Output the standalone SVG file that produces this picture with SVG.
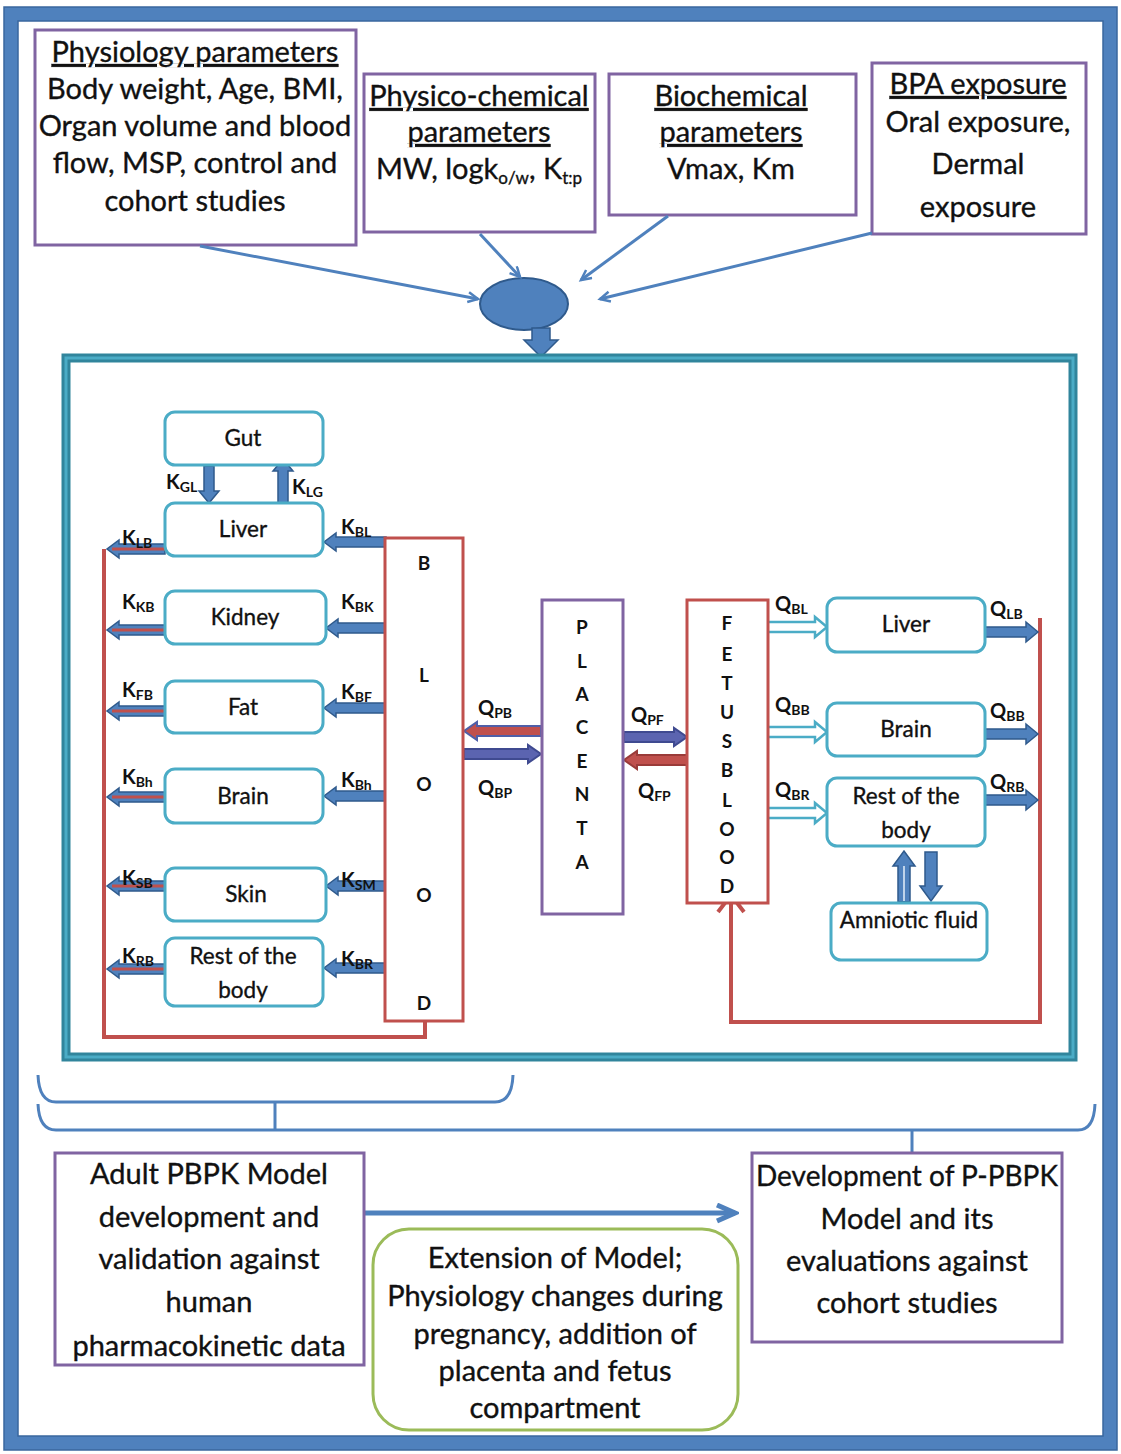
<svg xmlns="http://www.w3.org/2000/svg" width="1121" height="1454" viewBox="0 0 1121 1454">
<style>
.t{font-family:Lato,"Open Sans","Liberation Sans",sans-serif;fill:#111;stroke:#111;stroke-width:0.35;text-anchor:middle}
.big{font-size:29px}
.org{font-size:22.5px}
.lab{font-family:Lato,"Open Sans","Liberation Sans",sans-serif;font-size:20px;font-weight:bold;fill:#111}
.sub{font-size:14px}
.let{font-family:Lato,"Open Sans","Liberation Sans",sans-serif;font-size:19px;font-weight:bold;fill:#111;text-anchor:middle}
.pbox{fill:#fff;stroke:#8064A2;stroke-width:3}
.obox{fill:#fff;stroke:#4BACC6;stroke-width:3}
.rbox{fill:#fff;stroke:#C0504D;stroke-width:3}
.conn{fill:none;stroke:#4F81BD;stroke-width:3}
.barr{fill:#4F81BD;stroke:#2F5A8C;stroke-width:1.5}
.red{fill:none;stroke:#C0504D;stroke-width:4}
.hol{fill:#fff;stroke:#4BACC6;stroke-width:2.5}
.brace{fill:none;stroke:#4F81BD;stroke-width:3}
</style>
<defs>
<marker id="open" markerWidth="14" markerHeight="14" refX="11" refY="6" orient="auto" markerUnits="userSpaceOnUse">
<path d="M1,1 L11,6 L1,11" fill="none" stroke="#4F81BD" stroke-width="2.5"/>
</marker>
<marker id="open2" markerWidth="24" markerHeight="24" refX="20" refY="10" orient="auto" markerUnits="userSpaceOnUse">
<path d="M2,2 L20,10 L2,18" fill="none" stroke="#4F81BD" stroke-width="5"/>
</marker>
</defs>
<rect width="1121" height="1454" fill="#fff"/>
<rect x="11" y="14" width="1099" height="1429" fill="none" stroke="#4F81BD" stroke-width="14"/>
<rect x="4" y="7" width="1113" height="1443" fill="none" stroke="#3A679E" stroke-width="1.5"/>
<rect x="18" y="21" width="1085" height="1415" fill="none" stroke="#3A679E" stroke-width="1.5"/>

<!-- top boxes -->
<g id="physiology">
<rect class="pbox" x="35" y="30" width="321" height="215"/>
<text class="t big" x="195" y="62" text-decoration="underline">Physiology parameters</text>
<text class="t big" x="195" y="99">Body weight, Age, BMI,</text>
<text class="t big" x="195" y="136">Organ volume and blood</text>
<text class="t big" x="195" y="173">flow, MSP, control and</text>
<text class="t big" x="195" y="211">cohort studies</text>
</g>
<g id="physicochemical">
<rect class="pbox" x="364" y="74" width="231" height="158"/>
<text class="t big" x="479" y="106" text-decoration="underline">Physico-chemical</text>
<text class="t big" x="479" y="142" text-decoration="underline">parameters</text>
<text class="t big" x="479" y="179">MW, logk<tspan font-size="17" dy="5">o/w</tspan><tspan dy="-5">, K</tspan><tspan font-size="17" dy="5">t:p</tspan></text>
</g>
<g id="biochemical">
<rect class="pbox" x="609" y="74" width="247" height="141"/>
<text class="t big" x="731" y="106" text-decoration="underline">Biochemical</text>
<text class="t big" x="731" y="142" text-decoration="underline">parameters</text>
<text class="t big" x="731" y="179">Vmax, Km</text>
</g>
<g id="bpa">
<rect class="pbox" x="872" y="63" width="214" height="171"/>
<text class="t big" x="978" y="94" text-decoration="underline">BPA exposure</text>
<text class="t big" x="978" y="132">Oral exposure,</text>
<text class="t big" x="978" y="174">Dermal</text>
<text class="t big" x="978" y="217">exposure</text>
</g>
<g id="hub">
<ellipse cx="524" cy="304" rx="44" ry="26" fill="#4F81BD" stroke="#2F5A8C" stroke-width="2"/>
<path class="barr" d="M532,328 H550 V340 H558 L541,357 L524,340 H532 Z"/>
</g>

<!-- main model frame -->
<rect x="66" y="358" width="1007" height="699" fill="none" stroke="#31859C" stroke-width="9"/>
<rect x="66" y="358" width="1007" height="699" fill="none" stroke="#4BACC6" stroke-width="3"/>

<g id="connectors">
<line class="conn" x1="200" y1="246" x2="478" y2="299" marker-end="url(#open)"/>
<line class="conn" x1="480" y1="234" x2="520" y2="277" marker-end="url(#open)"/>
<line class="conn" x1="668" y1="216" x2="581" y2="280" marker-end="url(#open)"/>
<line class="conn" x1="872" y1="233" x2="600" y2="299" marker-end="url(#open)"/>

<!-- maternal red loop -->
<path class="red" d="M104,549 V1037 H425 V1021"/>
<!-- fetal red loop -->
<path class="red" d="M1040,618 V1022 H731 V898"/>
<path d="M718,912 L731,895 L744,912" fill="none" stroke="#C0504D" stroke-width="4"/>

<!-- gut/liver -->
<path class="barr" d="M204,466 H214 V491 H219 L209,503 L199,491 H204 Z"/>
<path class="barr" d="M278,504 H288 V471 H293 L283,459 L273,471 H278 Z"/>

<!-- blood -> organs (left pointing) -->
<path class="barr" d="M386,537 H336 V533 L324,542 L336,551 V547 H386 Z"/>
<path class="barr" d="M386,623 H338 V619 L326,628 L338,637 V633 H386 Z"/>
<path class="barr" d="M386,703 H336 V699 L324,708 L336,717 V713 H386 Z"/>
<path class="barr" d="M386,791 H336 V787 L324,796 L336,805 V801 H386 Z"/>
<path class="barr" d="M386,881 H338 V877 L326,886 L338,895 V891 H386 Z"/>
<path class="barr" d="M386,963 H336 V959 L324,968 L336,977 V973 H386 Z"/>

<!-- organs -> venous line (left pointing, red stripe) -->
<g>
<path class="barr" d="M165,544 H119 V540 L107,549 L119,558 V554 H165 Z"/>
<line x1="112" y1="549" x2="165" y2="549" stroke="#C0504D" stroke-width="3"/>
<path class="barr" d="M165,625 H119 V621 L107,630 L119,639 V635 H165 Z"/>
<line x1="112" y1="630" x2="165" y2="630" stroke="#C0504D" stroke-width="3"/>
<path class="barr" d="M165,706 H119 V702 L107,711 L119,720 V716 H165 Z"/>
<line x1="112" y1="711" x2="165" y2="711" stroke="#C0504D" stroke-width="3"/>
<path class="barr" d="M165,792 H119 V788 L107,797 L119,806 V802 H165 Z"/>
<line x1="112" y1="797" x2="165" y2="797" stroke="#C0504D" stroke-width="3"/>
<path class="barr" d="M165,881 H119 V877 L107,886 L119,895 V891 H165 Z"/>
<line x1="112" y1="886" x2="165" y2="886" stroke="#C0504D" stroke-width="3"/>
<path class="barr" d="M165,964 H119 V960 L107,969 L119,978 V974 H165 Z"/>
<line x1="112" y1="969" x2="165" y2="969" stroke="#C0504D" stroke-width="3"/>
</g>

<!-- blood <-> placenta -->
<path d="M541,726 H477 V722 L464,731 L477,740 V736 H541 Z" fill="#C0504D" stroke="#4F5FA8" stroke-width="2"/>
<path d="M464,749 H528 V745 L541,754 L528,763 V759 H464 Z" fill="#5B64B0" stroke="#3F4A90" stroke-width="2"/>
<path d="M624,732 H674 V728 L687,737 L674,746 V742 H624 Z" fill="#5B64B0" stroke="#3F4A90" stroke-width="2"/>
<path d="M687,755 H637 V751 L624,760 L637,769 V765 H687 Z" fill="#C0504D" stroke="#9A3B39" stroke-width="2"/>

<!-- fetal blood -> organs (hollow) -->
<path class="hol" d="M769,622 H815 V617 L827,627 L815,637 V632 H769"/>
<path class="hol" d="M769,727 H815 V722 L827,732 L815,742 V737 H769"/>
<path class="hol" d="M769,808 H815 V803 L827,813 L815,823 V818 H769"/>

<!-- fetal organs -> venous -->
<path class="barr" d="M985,627 H1026 V622 L1038,632 L1026,642 V637 H985 Z"/>
<path class="barr" d="M985,729 H1026 V724 L1038,734 L1026,744 V739 H985 Z"/>
<path class="barr" d="M985,795 H1026 V790 L1038,800 L1026,810 V805 H985 Z"/>

<!-- amniotic -->
<path class="barr" d="M898,902 H910 V866 H915 L904,851 L893,866 H898 Z"/>
<line x1="904" y1="866" x2="904" y2="901" stroke="#BFD3EA" stroke-width="2"/>
<path class="barr" d="M925,852 H937 V886 H942 L931,901 L920,886 H925 Z"/>

<!-- bottom -->
<path class="brace" d="M38,1075 Q39,1102 56,1102 H495 Q512,1102 513,1075"/>
<line class="brace" x1="275" y1="1102" x2="275" y2="1130"/>
<path class="brace" d="M38,1104 Q39,1130 56,1130 H1078 Q1094,1130 1095,1104"/>
<line class="brace" x1="912" y1="1130" x2="912" y2="1155"/>
<line x1="364" y1="1213" x2="735" y2="1213" stroke="#4F81BD" stroke-width="5" marker-end="url(#open2)"/>
</g>

<!-- left organs -->
<g id="gut"><rect class="obox" x="165" y="412" width="158" height="53" rx="10"/><text class="t org" x="243" y="446">Gut</text></g>
<g id="liver"><rect class="obox" x="165" y="503" width="158" height="53" rx="10"/><text class="t org" x="243" y="537">Liver</text></g>
<g id="kidney"><rect class="obox" x="165" y="591" width="161" height="53" rx="10"/><text class="t org" x="245" y="625">Kidney</text></g>
<g id="fat"><rect class="obox" x="165" y="681" width="158" height="52" rx="10"/><text class="t org" x="243" y="715">Fat</text></g>
<g id="brain"><rect class="obox" x="165" y="769" width="158" height="54" rx="10"/><text class="t org" x="243" y="804">Brain</text></g>
<g id="skin"><rect class="obox" x="165" y="868" width="161" height="53" rx="10"/><text class="t org" x="246" y="902">Skin</text></g>
<g id="rest"><rect class="obox" x="165" y="938" width="158" height="68" rx="10"/><text class="t org" x="243" y="964">Rest of the</text><text class="t org" x="243" y="998">body</text></g>

<g id="blood">
<rect class="rbox" x="385" y="538" width="78" height="483"/>
<text class="let" x="424" y="570">B</text>
<text class="let" x="424" y="682">L</text>
<text class="let" x="424" y="791">O</text>
<text class="let" x="424" y="902">O</text>
<text class="let" x="424" y="1010">D</text>
</g>
<g id="placenta">
<rect class="pbox" x="542" y="600" width="81" height="314"/>
<text class="let" x="582" y="634">P</text>
<text class="let" x="582" y="668">L</text>
<text class="let" x="582" y="701">A</text>
<text class="let" x="582" y="734">C</text>
<text class="let" x="582" y="768">E</text>
<text class="let" x="582" y="801">N</text>
<text class="let" x="582" y="835">T</text>
<text class="let" x="582" y="869">A</text>
</g>
<g id="fetusblood">
<rect class="rbox" x="687" y="600" width="81" height="303"/>
<text class="let" x="727" y="630">F</text>
<text class="let" x="727" y="661">E</text>
<text class="let" x="727" y="690">T</text>
<text class="let" x="727" y="719">U</text>
<text class="let" x="727" y="748">S</text>
<text class="let" x="727" y="777">B</text>
<text class="let" x="727" y="807">L</text>
<text class="let" x="727" y="836">O</text>
<text class="let" x="727" y="864">O</text>
<text class="let" x="727" y="893">D</text>
</g>
<g id="fliver"><rect class="obox" x="827" y="598" width="158" height="54" rx="10"/><text class="t org" x="906" y="632">Liver</text></g>
<g id="fbrain"><rect class="obox" x="827" y="703" width="158" height="53" rx="10"/><text class="t org" x="906" y="737">Brain</text></g>
<g id="frest"><rect class="obox" x="827" y="778" width="158" height="68" rx="10"/><text class="t org" x="906" y="804">Rest of the</text><text class="t org" x="906" y="838">body</text></g>
<g id="amniotic"><rect class="obox" x="831" y="903" width="156" height="57" rx="10"/><text class="t org" x="909" y="928">Amniotic fluid</text></g>

<!-- labels -->
<g id="labels">
<text class="lab" x="166" y="489">K<tspan class="sub" dy="3">GL</tspan></text>
<text class="lab" x="292" y="494">K<tspan class="sub" dy="3">LG</tspan></text>
<text class="lab" x="341" y="534">K<tspan class="sub" dy="3">BL</tspan></text>
<text class="lab" x="341" y="609">K<tspan class="sub" dy="3">BK</tspan></text>
<text class="lab" x="341" y="699">K<tspan class="sub" dy="3">BF</tspan></text>
<text class="lab" x="341" y="787">K<tspan class="sub" dy="3">Bh</tspan></text>
<text class="lab" x="341" y="887">K<tspan class="sub" dy="3">SM</tspan></text>
<text class="lab" x="341" y="966">K<tspan class="sub" dy="3">BR</tspan></text>
<text class="lab" x="122" y="545">K<tspan class="sub" dy="3">LB</tspan></text>
<text class="lab" x="122" y="609">K<tspan class="sub" dy="3">KB</tspan></text>
<text class="lab" x="122" y="697">K<tspan class="sub" dy="3">FB</tspan></text>
<text class="lab" x="122" y="784">K<tspan class="sub" dy="3">Bh</tspan></text>
<text class="lab" x="122" y="885">K<tspan class="sub" dy="3">SB</tspan></text>
<text class="lab" x="122" y="963">K<tspan class="sub" dy="3">RB</tspan></text>
<text class="lab" x="478" y="715">Q<tspan class="sub" dy="3">PB</tspan></text>
<text class="lab" x="478" y="795">Q<tspan class="sub" dy="3">BP</tspan></text>
<text class="lab" x="631" y="722">Q<tspan class="sub" dy="3">PF</tspan></text>
<text class="lab" x="638" y="798">Q<tspan class="sub" dy="3">FP</tspan></text>
<text class="lab" x="775" y="611">Q<tspan class="sub" dy="3">BL</tspan></text>
<text class="lab" x="775" y="712">Q<tspan class="sub" dy="3">BB</tspan></text>
<text class="lab" x="775" y="797">Q<tspan class="sub" dy="3">BR</tspan></text>
<text class="lab" x="990" y="616">Q<tspan class="sub" dy="3">LB</tspan></text>
<text class="lab" x="990" y="718">Q<tspan class="sub" dy="3">BB</tspan></text>
<text class="lab" x="990" y="789">Q<tspan class="sub" dy="3">RB</tspan></text>
</g>

<!-- bottom boxes -->
<g id="adult">
<rect class="pbox" x="55" y="1153" width="309" height="212"/>
<text class="t big" x="209" y="1184">Adult PBPK Model</text>
<text class="t big" x="209" y="1227">development and</text>
<text class="t big" x="209" y="1269">validation against</text>
<text class="t big" x="209" y="1312">human</text>
<text class="t big" x="209" y="1356">pharmacokinetic data</text>
</g>
<g id="extension">
<rect x="373" y="1229" width="365" height="201" rx="36" fill="#fff" stroke="#9BBB59" stroke-width="3"/>
<text class="t big" x="555" y="1268">Extension of Model;</text>
<text class="t big" x="555" y="1306">Physiology changes during</text>
<text class="t big" x="555" y="1344">pregnancy, addition of</text>
<text class="t big" x="555" y="1381">placenta and fetus</text>
<text class="t big" x="555" y="1418">compartment</text>
</g>
<g id="development">
<rect class="pbox" x="752" y="1153" width="310" height="189"/>
<text class="t big" x="907" y="1186" textLength="302" lengthAdjust="spacingAndGlyphs">Development of P-PBPK</text>
<text class="t big" x="907" y="1229">Model and its</text>
<text class="t big" x="907" y="1271">evaluations against</text>
<text class="t big" x="907" y="1313">cohort studies</text>
</g>
</svg>
